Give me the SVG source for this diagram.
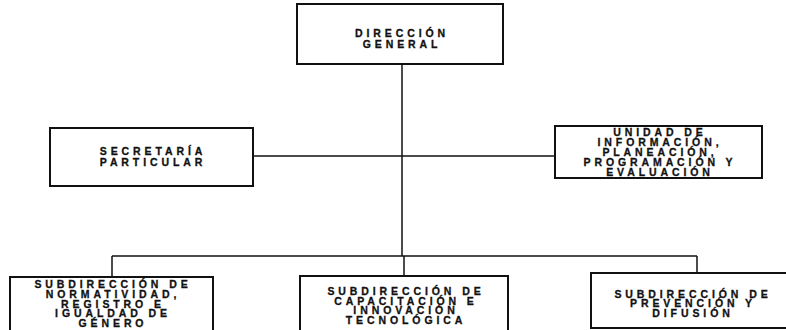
<svg xmlns="http://www.w3.org/2000/svg" width="786" height="330" viewBox="0 0 786 330">
<style>
.box{fill:#fff;stroke:#111;stroke-width:2}
.con{fill:none;stroke:#111;stroke-width:1.5}
text{font-family:"Liberation Sans",Arial,sans-serif;font-weight:bold;font-size:10.5px;letter-spacing:3.9px;fill:#111;stroke:#111;stroke-width:0.3;text-anchor:middle}
</style>
<rect width="786" height="330" fill="#fff"/>
<g id="connectors">
<path class="con" d="M402 64V256"/>
<path class="con" d="M253 156H555"/>
<path class="con" d="M112 256H697"/>
<path class="con" d="M112 256V277"/>
<path class="con" d="M404 256V276"/>
<path class="con" d="M697 256V273"/>
</g>
<g id="direccion-general">
<rect class="box" x="297" y="4" width="206" height="60"/>
<text><tspan x="402" y="37">DIRECCIÓN</tspan><tspan x="402" y="48">GENERAL</tspan></text>
</g>
<g id="secretaria-particular">
<rect class="box" x="50" y="128" width="203" height="58"/>
<text><tspan x="153" y="155">SECRETARÍA</tspan><tspan x="153" y="166">PARTICULAR</tspan></text>
</g>
<g id="unidad-informacion">
<rect class="box" x="555" y="126" width="207" height="52"/>
<text><tspan x="660" y="136">UNIDAD DE</tspan><tspan x="660" y="146">INFORMACIÓN,</tspan><tspan x="660" y="156">PLANEACIÓN,</tspan><tspan x="660" y="166">PROGRAMACIÓN Y</tspan><tspan x="660" y="175.5">EVALUACIÓN</tspan></text>
</g>
<g id="subdireccion-normatividad">
<rect class="box" x="10" y="277" width="203" height="62"/>
<text><tspan x="113" y="287.5">SUBDIRECCIÓN DE</tspan><tspan x="113" y="297.5">NORMATIVIDAD,</tspan><tspan x="113" y="307.5">REGISTRO E</tspan><tspan x="113" y="317">IGUALDAD DE</tspan><tspan x="113" y="327">GÉNERO</tspan></text>
</g>
<g id="subdireccion-capacitacion">
<rect class="box" x="300" y="276" width="208" height="62"/>
<text><tspan x="406" y="295">SUBDIRECCIÓN DE</tspan><tspan x="406" y="304.5">CAPACITACIÓN E</tspan><tspan x="406" y="314">INNOVACIÓN</tspan><tspan x="406" y="323.5">TECNOLÓGICA</tspan></text>
</g>
<g id="subdireccion-prevencion">
<rect class="box" x="591" y="273" width="212" height="55"/>
<text><tspan x="693" y="297.5">SUBDIRECCIÓN DE</tspan><tspan x="693" y="307">PREVENCIÓN Y</tspan><tspan x="693" y="316.5">DIFUSIÓN</tspan></text>
</g>
</svg>
